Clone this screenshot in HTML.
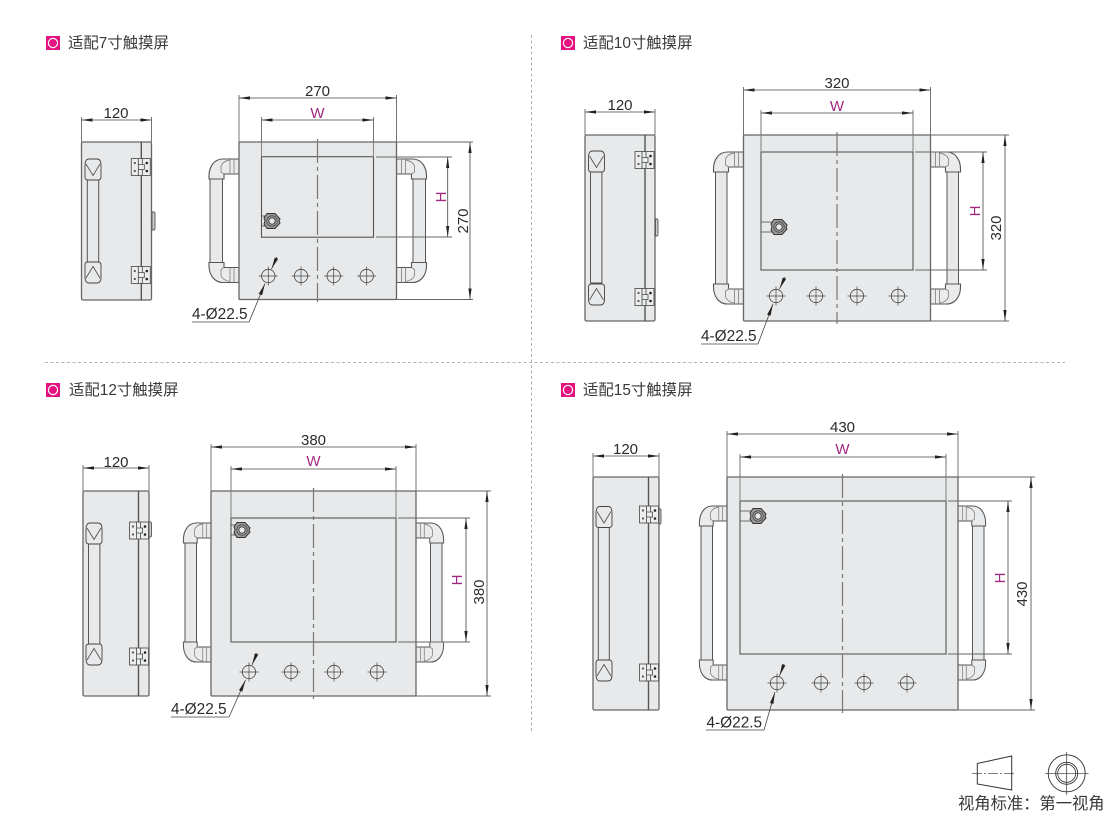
<!DOCTYPE html>
<html><head><meta charset="utf-8"><style>
html,body{margin:0;padding:0;background:#fff}
svg{display:block}
text{font-family:"Liberation Sans","Noto Sans CJK SC",sans-serif;fill:#2b2b2b;font-size:15px}
.m{text-anchor:middle}
.p{fill:#a2277f}
.t{font-size:15.4px;fill:#3a3a3a}
.s{font-size:15.4px}
.body{fill:#e8e9ea;stroke:#666;stroke-width:1.3}
.win{fill:#e8e9ea;stroke:#555;stroke-width:1.1}
.d{stroke:#444;stroke-width:.8;fill:none;marker-start:url(#a);marker-end:url(#a)}
.e{stroke:#666;stroke-width:.9;fill:none}
.ew{stroke:#888;stroke-width:1.1;fill:none}
.c{stroke:#777;stroke-width:1.2;stroke-dasharray:24 4 4 4;fill:none}
.l{stroke:#444;stroke-width:.8;fill:none;marker-end:url(#b)}
.n{stroke:#444;stroke-width:.8;fill:none}
.h{fill:#eaebec;stroke:#555;stroke-width:1.1}
.dv{stroke:#555;stroke-width:1.4}
.bar{fill:#e8e9ea;stroke:#555;stroke-width:1}
.kn{fill:#ccc;stroke:#555;stroke-width:.9}
</style></head><body>
<svg width="1110" height="816" viewBox="0 0 1110 816" xmlns="http://www.w3.org/2000/svg">
<defs>
<marker id="a" markerUnits="userSpaceOnUse" markerWidth="12" markerHeight="6" refX="11" refY="2.5" orient="auto-start-reverse"><path d="M0,0.9L11,2.5L0,4.1Z" fill="#222"/></marker>
<marker id="b" markerUnits="userSpaceOnUse" markerWidth="14" markerHeight="6" refX="12" refY="2.5" orient="auto"><path d="M0,0.7L12,2.5L0,4.3Z" fill="#222"/></marker>
<g id="elbow">
<path class="h" d="M0,0H-16C-25,0-30,8-30,17V20H-15V15H0Z"/>
<path d="M-15,15L-18,13V7Q-16,2-9,1M-9,0V15M-5,0V15" fill="none" stroke="#888" stroke-width=".9"/>
</g>
<g id="hinge">
<rect x="0" y="0" width="19" height="17" fill="#eceded" stroke="#555" stroke-width=".9"/>
<path d="M7,0V17M11,0V6H13V11H11V17M7,6H11M7,11H11" stroke="#444" stroke-width=".8" fill="none"/>
<circle cx="3.5" cy="4.5" r="1.1" fill="#555"/><circle cx="3.5" cy="12.5" r="1.1" fill="#555"/>
<circle cx="15.5" cy="4.5" r="1.3" fill="#222"/><circle cx="15.5" cy="12.5" r="1.3" fill="#222"/>
</g>
<g id="cap">
<path d="M4,0H12C15,0 16,3 16,6V18Q16,21 13,21H3Q0,21 0,18V6C0,3 1,0 4,0Z" fill="#e8e9ea" stroke="#444" stroke-width=".9"/>
<path d="M1,5L8,16.5L15,5" fill="none" stroke="#555" stroke-width=".9"/>
</g>
<g id="hole">
<circle r="6.7" fill="none" stroke="#444" stroke-width=".8"/>
<path d="M-9.5,0H9.5M0,-9.5V9.5" stroke="#444" stroke-width=".7"/>
</g>
<g id="lock">
<path d="M-5,-7.5L3,-7.5L8,-2L7,0L8,2L3,7.5L-5,7.5L-8,3L-7,0L-8,-3Z" fill="#9a9a9a" stroke="#333" stroke-width="1"/>
<circle r="5.2" fill="#aaa" stroke="#444" stroke-width=".8"/>
<circle r="3.2" fill="#e8e9ea" stroke="#333" stroke-width=".9"/>
</g>
<g id="mark">
<rect x="0" y="0" width="14" height="14" fill="#e5127f"/>
<circle cx="7" cy="7" r="4.6" fill="#e5127f" stroke="#fff" stroke-width="1.2"/>
</g>
</defs>

<line x1="531.5" y1="35" x2="531.5" y2="733" stroke="#999" stroke-width=".8" stroke-dasharray="3 2.5"/>
<line x1="45" y1="362.5" x2="1065" y2="362.5" stroke="#999" stroke-width=".8" stroke-dasharray="3 2.5"/>

<!-- Titles -->
<use href="#mark" x="46" y="36"/>
<text class="t" x="68" y="48">适配7寸触摸屏</text>
<use href="#mark" x="561" y="36"/>
<text class="t" x="583" y="48">适配10寸触摸屏</text>
<use href="#mark" x="46" y="383"/>
<text class="t" x="69" y="395">适配12寸触摸屏</text>
<use href="#mark" x="561" y="383"/>
<text class="t" x="583" y="395">适配15寸触摸屏</text>

<!-- ========== PANEL 1 ========== -->
<rect class="body" x="81.5" y="142" width="70" height="158" rx="1.5"/>
<line class="dv" x1="141.3" y1="142" x2="141.3" y2="300"/>
<path class="kn" d="M152,212H154Q155,212 155,214V228Q155,230 154,230H152Z"/>
<rect class="bar" x="87.3" y="179" width="11.4" height="83"/>
<use href="#cap" transform="translate(85,159)"/>
<use href="#cap" transform="translate(85,283) scale(1,-1)"/>
<use href="#hinge" x="131.3" y="158.5"/>
<use href="#hinge" x="131.3" y="266.5"/>
<path class="e" d="M81.5,142V117M151.5,142V117"/>
<line class="d" x1="81.5" y1="120" x2="151.5" y2="120"/>
<text class="m" x="116" y="118">120</text>

<rect class="bar" x="210" y="178" width="12.5" height="85"/>
<rect class="bar" x="413" y="178" width="12.5" height="85"/>
<use href="#elbow" transform="translate(239,159)"/>
<use href="#elbow" transform="translate(239,282.5) scale(1,-1)"/>
<use href="#elbow" transform="translate(396.5,159) scale(-1,1)"/>
<use href="#elbow" transform="translate(396.5,282.5) scale(-1,-1)"/>
<rect class="body" x="239" y="142" width="157.5" height="157.5" rx="1"/>
<rect class="win" x="261.5" y="156.7" width="112" height="80.5"/>
<path class="n" d="M261.5,216H268M261.5,226H268"/>
<use href="#lock" x="272" y="221"/>
<line class="c" x1="317.5" y1="139" x2="317.5" y2="302"/>
<use href="#hole" x="268.3" y="276"/><use href="#hole" x="301" y="276"/><use href="#hole" x="333.7" y="276"/><use href="#hole" x="366.7" y="276"/>
<path class="e" d="M239,142V95M396.5,142V95M261.5,117V142M373.5,117V142M376,157H452M376,237H452M396.5,142H473M396.5,299.5H473"/>
<path class="ew" d="M261.5,142V157M373.5,142V157"/>
<line class="d" x1="239" y1="98" x2="396.5" y2="98"/>
<line class="d" x1="261.5" y1="120" x2="373.5" y2="120"/>
<line class="d" x1="447.7" y1="157" x2="447.7" y2="237"/>
<line class="d" x1="470" y1="142" x2="470" y2="299.5"/>
<text class="m" x="317.5" y="96">270</text>
<text class="m p" x="317.5" y="118">W</text>
<text class="m p" transform="translate(446,197) rotate(-90)">H</text>
<text class="m" transform="translate(468,221) rotate(-90)">270</text>
<text class="s" x="192" y="319">4-Ø22.5</text>
<path class="n" d="M192,322H249"/>
<line class="l" x1="249" y1="322" x2="265" y2="283.5"/>
<line class="l" x1="277" y1="257" x2="271.5" y2="269"/>

<!-- ========== PANEL 2 ========== -->
<rect class="body" x="585" y="135" width="70" height="186" rx="1.5"/>
<line class="dv" x1="645" y1="135" x2="645" y2="321"/>
<path class="kn" d="M655.5,219H657Q658,219 658,221V234Q658,236 657,236H655.5Z"/>
<rect class="bar" x="590.5" y="171" width="11.4" height="112"/>
<use href="#cap" transform="translate(588.5,151)"/>
<use href="#cap" transform="translate(588.5,305) scale(1,-1)"/>
<use href="#hinge" x="635" y="151.5"/>
<use href="#hinge" x="635" y="288.5"/>
<path class="e" d="M585,135V109M655,135V109"/>
<line class="d" x1="585" y1="112" x2="655" y2="112"/>
<text class="m" x="620" y="110">120</text>

<rect class="bar" x="715.5" y="171" width="11.5" height="113"/>
<rect class="bar" x="947" y="171" width="11.5" height="113"/>
<use href="#elbow" transform="translate(743.5,152)"/>
<use href="#elbow" transform="translate(743.5,304) scale(1,-1)"/>
<use href="#elbow" transform="translate(930.5,152) scale(-1,1)"/>
<use href="#elbow" transform="translate(930.5,304) scale(-1,-1)"/>
<rect class="body" x="743.5" y="135" width="187" height="186" rx="1"/>
<rect class="win" x="761" y="152" width="152" height="118"/>
<path class="n" d="M761,222H774M761,232H774"/>
<use href="#lock" x="779" y="227"/>
<line class="c" x1="837" y1="132" x2="837" y2="324"/>
<use href="#hole" x="776" y="296"/><use href="#hole" x="816" y="296"/><use href="#hole" x="857" y="296"/><use href="#hole" x="898" y="296"/>
<path class="e" d="M743.5,135V87M930.5,135V87M761,110V135M913,110V135M915,152H987M915,270H987M930.5,135H1009M930.5,321H1009"/>
<path class="ew" d="M761,135V152M913,135V152"/>
<line class="d" x1="743.5" y1="90" x2="930.5" y2="90"/>
<line class="d" x1="761" y1="113" x2="913" y2="113"/>
<line class="d" x1="983" y1="152" x2="983" y2="270"/>
<line class="d" x1="1005" y1="135" x2="1005" y2="321"/>
<text class="m" x="837" y="88">320</text>
<text class="m p" x="837" y="111">W</text>
<text class="m p" transform="translate(980,211) rotate(-90)">H</text>
<text class="m" transform="translate(1001,228) rotate(-90)">320</text>
<text class="s" x="701" y="341">4-Ø22.5</text>
<path class="n" d="M701,344H758"/>
<line class="l" x1="758" y1="344" x2="773" y2="304"/>
<line class="l" x1="785" y1="277" x2="779.5" y2="289"/>

<!-- ========== PANEL 3 ========== -->
<rect class="body" x="83" y="491" width="66" height="205" rx="1.5"/>
<line class="dv" x1="138.5" y1="491" x2="138.5" y2="696"/>
<path class="kn" d="M149,522H150.5Q151.5,522 151.5,524V535Q151.5,537 150.5,537H149Z"/>
<rect class="bar" x="88.5" y="543" width="11.4" height="101"/>
<use href="#cap" transform="translate(86,523)"/>
<use href="#cap" transform="translate(86,665) scale(1,-1)"/>
<use href="#hinge" x="129.5" y="522"/>
<use href="#hinge" x="129.5" y="648"/>
<path class="e" d="M83,491V465M149,491V465"/>
<line class="d" x1="83" y1="468" x2="149" y2="468"/>
<text class="m" x="116" y="467">120</text>

<rect class="bar" x="185" y="541" width="11.5" height="104"/>
<rect class="bar" x="430.5" y="541" width="11.5" height="104"/>
<use href="#elbow" transform="translate(211,523) scale(.92,1)"/>
<use href="#elbow" transform="translate(211,662) scale(.92,-1)"/>
<use href="#elbow" transform="translate(416,523) scale(-.92,1)"/>
<use href="#elbow" transform="translate(416,662) scale(-.92,-1)"/>
<rect class="body" x="211" y="491" width="205" height="205" rx="1"/>
<rect class="win" x="231" y="518" width="165" height="124"/>
<path class="n" d="M231,525H238M231,535H238"/>
<use href="#lock" x="242" y="530"/>
<line class="c" x1="313.5" y1="488" x2="313.5" y2="699"/>
<use href="#hole" x="249" y="672"/><use href="#hole" x="291" y="672"/><use href="#hole" x="334" y="672"/><use href="#hole" x="377" y="672"/>
<path class="e" d="M211,491V444M416,491V444M231,466V491M396,466V491M398,518H470M398,642H470M416,491H491M416,696H491"/>
<path class="ew" d="M231,491V518M396,491V518"/>
<line class="d" x1="211" y1="447" x2="416" y2="447"/>
<line class="d" x1="231" y1="469" x2="396" y2="469"/>
<line class="d" x1="466" y1="518" x2="466" y2="642"/>
<line class="d" x1="487" y1="491" x2="487" y2="696"/>
<text class="m" x="313.5" y="445">380</text>
<text class="m p" x="313.5" y="466">W</text>
<text class="m p" transform="translate(462,580) rotate(-90)">H</text>
<text class="m" transform="translate(484,592) rotate(-90)">380</text>
<text class="s" x="171" y="714">4-Ø22.5</text>
<path class="n" d="M171,717H229"/>
<line class="l" x1="229" y1="717" x2="245.5" y2="680"/>
<line class="l" x1="257" y1="653" x2="252" y2="665"/>

<!-- ========== PANEL 4 ========== -->
<rect class="body" x="593" y="477" width="66" height="233" rx="1.5"/>
<line class="dv" x1="648.5" y1="477" x2="648.5" y2="710"/>
<path class="kn" d="M659,509H660Q661,509 661,511V522Q661,524 660,524H659Z"/>
<rect class="bar" x="598.3" y="526" width="11" height="134"/>
<use href="#cap" transform="translate(596,506.5)"/>
<use href="#cap" transform="translate(596,681) scale(1,-1)"/>
<use href="#hinge" x="639.5" y="506"/>
<use href="#hinge" x="639.5" y="664"/>
<path class="e" d="M593,477V453M659,477V453"/>
<line class="d" x1="593" y1="456" x2="659" y2="456"/>
<text class="m" x="625.5" y="454">120</text>

<rect class="bar" x="701" y="525" width="11.5" height="139"/>
<rect class="bar" x="972.5" y="525" width="11.5" height="139"/>
<use href="#elbow" transform="translate(727,506) scale(.92,1)"/>
<use href="#elbow" transform="translate(727,680) scale(.92,-1)"/>
<use href="#elbow" transform="translate(958,506) scale(-.92,1)"/>
<use href="#elbow" transform="translate(958,680) scale(-.92,-1)"/>
<rect class="body" x="727" y="477" width="231" height="233" rx="1"/>
<rect class="win" x="740" y="501" width="206" height="153"/>
<path class="n" d="M740,511H753M740,521H753"/>
<use href="#lock" x="758" y="516"/>
<line class="c" x1="842.5" y1="474" x2="842.5" y2="713"/>
<use href="#hole" x="777" y="683"/><use href="#hole" x="821" y="683"/><use href="#hole" x="864" y="683"/><use href="#hole" x="907" y="683"/>
<path class="e" d="M727,477V431M958,477V431M740,454V477M946,454V477M948,501H1012M948,654H1012M958,477H1035M958,710H1035"/>
<path class="ew" d="M740,477V501M946,477V501"/>
<line class="d" x1="727" y1="434" x2="958" y2="434"/>
<line class="d" x1="740" y1="457" x2="946" y2="457"/>
<line class="d" x1="1008" y1="501" x2="1008" y2="654"/>
<line class="d" x1="1031" y1="477" x2="1031" y2="710"/>
<text class="m" x="842.5" y="432">430</text>
<text class="m p" x="842.5" y="454">W</text>
<text class="m p" transform="translate(1005,578) rotate(-90)">H</text>
<text class="m" transform="translate(1027,594) rotate(-90)">430</text>
<text class="s" x="706.5" y="727.5">4-Ø22.5</text>
<path class="n" d="M706,730H764"/>
<line class="l" x1="764" y1="730" x2="775" y2="692"/>
<line class="l" x1="784" y1="664" x2="779.5" y2="676"/>

<!-- Legend -->
<path d="M977.3,763.5L1011.7,756V790L977.3,784Z" fill="#fff" stroke="#333" stroke-width="1"/>
<line x1="972" y1="773.3" x2="1016" y2="773.3" stroke="#333" stroke-width=".7" stroke-dasharray="10 2 2 2"/>
<circle cx="1066.7" cy="773.3" r="18.5" fill="none" stroke="#333" stroke-width=".9"/>
<circle cx="1066.7" cy="773.3" r="11" fill="none" stroke="#333" stroke-width=".9"/>
<circle cx="1066.7" cy="773.3" r="9" fill="none" stroke="#333" stroke-width=".8"/>
<path d="M1045,773.3H1088.5M1066.7,752V795" stroke="#333" stroke-width=".7"/>
<text x="958" y="809" style="font-size:16.3px;fill:#3a3a3a">视角标准：第一视角</text>
</svg>
</body></html>
